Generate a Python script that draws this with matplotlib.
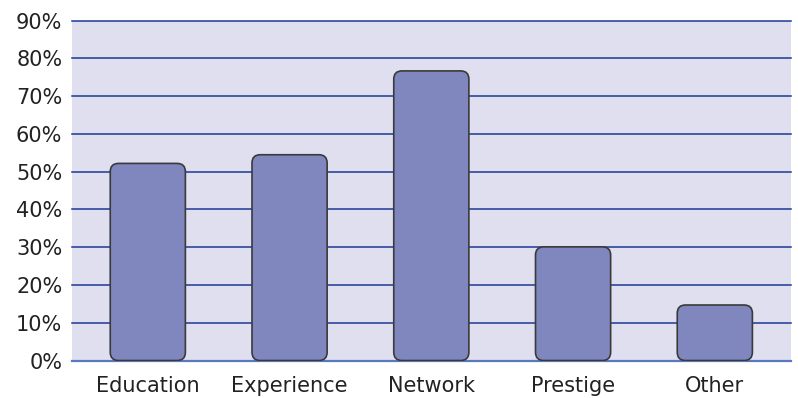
import numpy as np
import matplotlib
matplotlib.use('Agg')
from matplotlib import pyplot as plt
from matplotlib.patches import FancyBboxPatch
from matplotlib.ticker import FuncFormatter

categories = ['Education', 'Experience', 'Network', 'Prestige', 'Other']
shares = [52.2, 54.5, 76.7, 30.1, 14.7]
y_ticks = list(range(0, 100, 10))

bg_color = '#dfdfef'
bar_color = '#8087bf'
edge_color = '#3a3a3a'
grid_color = '#1c3896'

fig = plt.figure(figsize=(7.98, 3.98), dpi=100)
ax = fig.add_axes([0.0902, 0.0942, 0.9006, 0.8538])
ax.set_facecolor(bg_color)

x = np.arange(len(categories))
bars = ax.bar(x, shares, width=0.53, color='none', edgecolor='none', zorder=3)

# swap the plain rectangles for rounded ones
for rect in bars:
	box = FancyBboxPatch(
		(rect.get_x(), rect.get_y()), rect.get_width(), rect.get_height(),
		boxstyle='round,pad=0,rounding_size=0.058',
		mutation_aspect=37.7,
		facecolor=bar_color, edgecolor=edge_color, linewidth=1.2, zorder=3)
	ax.add_patch(box)
	rect.remove()

ax.set_xlim(-0.535, 4.535)
ax.set_ylim(0, 90)
ax.set_yticks(y_ticks)
ax.yaxis.set_major_formatter(FuncFormatter(lambda v, _: f'{v:.0f}%'))
ax.set_xticks(x)
ax.set_xticklabels(categories)

for v in y_ticks[1:]:
	ax.axhline(v, color=grid_color, linewidth=1.1, zorder=1, clip_on=False)

for side in ('top', 'right', 'left'):
	ax.spines[side].set_visible(False)
ax.spines['bottom'].set_color('#5a78c0')
ax.spines['bottom'].set_linewidth(1.6)
ax.spines['bottom'].set_zorder(2)

ax.tick_params(axis='both', length=0, labelsize=15, labelcolor='#222222')
ax.tick_params(axis='y', pad=7)
ax.tick_params(axis='x', pad=11)

fig.savefig('out.png', dpi=100)
